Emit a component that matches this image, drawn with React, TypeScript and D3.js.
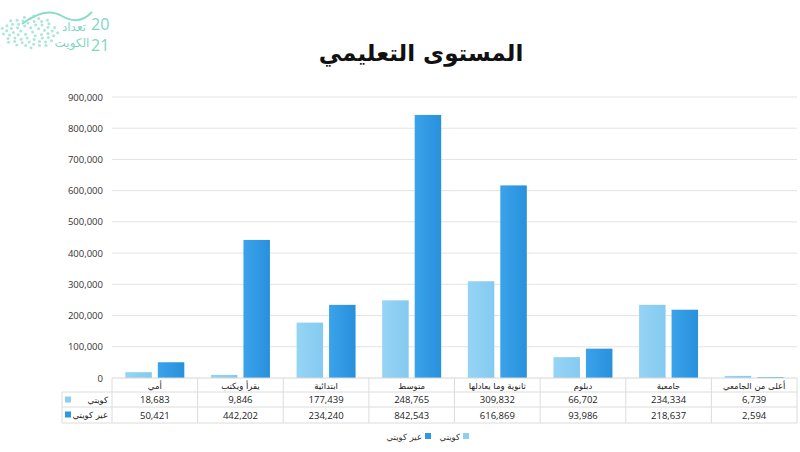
import React from "react";
import * as d3 from "d3";

const categories = [
  "أمي",
  "يقرأ ويكتب",
  "ابتدائية",
  "متوسط",
  "ثانوية وما يعادلها",
  "دبلوم",
  "جامعية",
  "أعلى من الجامعي",
];
const kuwaiti = [18683, 9846, 177439, 248765, 309832, 66702, 234334, 6739];
const nonKuwaiti = [50421, 442202, 234240, 842543, 616869, 93986, 218637, 2594];
const yTicks = [0, 100000, 200000, 300000, 400000, 500000, 600000, 700000, 800000, 900000];
const seriesNames = ["كويتي", "عير كويتي"];
const title = "المستوى التعليمي";

const LIGHT = "#8dcff3";
const DARK = "#2f98e2";
const ARABIC = "'DejaVu Sans', sans-serif";
const NUM = "'Open Sans', 'Liberation Sans', sans-serif";

export default function App() {
  const W = 800, H = 452;
  const left = 112, right = 797, top = 97, bottom = 378;
  const x = d3.scaleBand<string>().domain(categories).range([left, right]);
  const y = d3.scaleLinear().domain([0, 900000]).range([bottom, top]);
  const fmt = d3.format(",");
  const bw = 26.5, gap = 3;
  const rowY = [378, 392, 407, 423];
  const tableLeft = 62;
  const colors = [LIGHT, DARK];

  return (
    <svg width={W} height={H} style={{ position: "absolute", left: 0, top: 0, background: "#fff" }}>
      <defs>
        <linearGradient id="gDark" x1="0" x2="1" y1="0" y2="0">
          <stop offset="0" stopColor="#3aa3ea" />
          <stop offset="1" stopColor="#2990dc" />
        </linearGradient>
        <linearGradient id="gLight" x1="0" x2="1" y1="0" y2="0">
          <stop offset="0" stopColor="#96d4f5" />
          <stop offset="1" stopColor="#84caf0" />
        </linearGradient>
      </defs>
      {/* logo */}
      <g>
        {d3.range(0, 60).map((i) => {
          const a = i * 2.39996;
          const r = 2 + Math.sqrt(i) * 2.6;
          return (
            <circle key={i} cx={30 + Math.cos(a) * r * 1.3} cy={32 + Math.sin(a) * r * 0.75} r={1.5} fill="#9fe3cf" opacity={0.85} />
          );
        })}
        <path d="M22,24 Q45,6 62,16 T92,12" fill="none" stroke="#8fdcc6" strokeWidth={2} />
        <text x={74} y={31} fontFamily={ARABIC} fontSize={12} fill="#7fd6bf" textAnchor="middle">تعداد</text>
        <text x={72} y={47} fontFamily={ARABIC} fontSize={12} fill="#7fd6bf" textAnchor="middle">الكويت</text>
        <text x={91} y={30} fontFamily={NUM} fontSize={16} fill="#7fd6bf">20</text>
        <text x={91} y={51} fontFamily={NUM} fontSize={16} fill="#7fd6bf">21</text>
      </g>
      {/* title */}
      <text x={421} y={61} textAnchor="middle" fontFamily={ARABIC} fontWeight="bold" fontSize={23} fill="#111">
        {title}
      </text>
      {/* gridlines and y labels */}
      {yTicks.map((t) => (
        <g key={t}>
          {t > 0 && <line x1={left} x2={right} y1={y(t)} y2={y(t)} stroke="#e3e3e3" strokeWidth={1} />}
          <text x={103} y={y(t) + 3.5} textAnchor="end" fontFamily={NUM} fontSize={9.5} fill="#333">
            {fmt(t)}
          </text>
        </g>
      ))}
      {/* bars */}
      {categories.map((c, i) => {
        const cx = (x(c) as number) + x.bandwidth() / 2;
        return (
          <g key={c}>
            <rect x={cx - gap - bw} y={y(kuwaiti[i])} width={bw} height={bottom - y(kuwaiti[i])} fill="url(#gLight)" />
            <rect x={cx + gap} y={y(nonKuwaiti[i])} width={bw} height={bottom - y(nonKuwaiti[i])} fill="url(#gDark)" />
          </g>
        );
      })}
      {/* table */}
      <line x1={left} x2={right} y1={rowY[0]} y2={rowY[0]} stroke="#d6d6d6" />
      {rowY.slice(1).map((ry) => (
        <line key={ry} x1={tableLeft} x2={right} y1={ry} y2={ry} stroke="#dcdcdc" />
      ))}
      <line x1={tableLeft} x2={tableLeft} y1={rowY[1]} y2={rowY[3]} stroke="#dcdcdc" />
      {categories.map((c) => (
        <line key={c} x1={x(c)} x2={x(c)} y1={rowY[0]} y2={rowY[3]} stroke="#dcdcdc" />
      ))}
      <line x1={right} x2={right} y1={rowY[0]} y2={rowY[3]} stroke="#dcdcdc" />
      {categories.map((c, i) => {
        const cx = (x(c) as number) + x.bandwidth() / 2;
        return (
          <g key={c}>
            <text x={cx} y={389} textAnchor="middle" fontFamily={ARABIC} fontSize={8.5} fill="#222">{c}</text>
            <text x={cx} y={403} textAnchor="middle" fontFamily={NUM} fontSize={9.5} fill="#222">{fmt(kuwaiti[i])}</text>
            <text x={cx} y={418.5} textAnchor="middle" fontFamily={NUM} fontSize={9.5} fill="#222">{fmt(nonKuwaiti[i])}</text>
          </g>
        );
      })}
      {seriesNames.map((s, k) => (
        <g key={s}>
          <rect x={65} y={rowY[k + 1] + 4.5} width={6} height={6} fill={colors[k]} />
          <text x={108} y={rowY[k + 1] + 11} textAnchor="end" fontFamily={ARABIC} fontSize={8.5} fill="#222">{s}</text>
        </g>
      ))}
      {/* legend */}
      <g>
        <text x={422} y={440} textAnchor="end" fontFamily={ARABIC} fontSize={8.5} fill="#333">{seriesNames[1]}</text>
        <rect x={425} y={433} width={6} height={6} fill={DARK} />
        <text x={460} y={440} textAnchor="end" fontFamily={ARABIC} fontSize={8.5} fill="#333">{seriesNames[0]}</text>
        <rect x={463} y={433} width={6} height={6} fill={LIGHT} />
      </g>
    </svg>
  );
}
